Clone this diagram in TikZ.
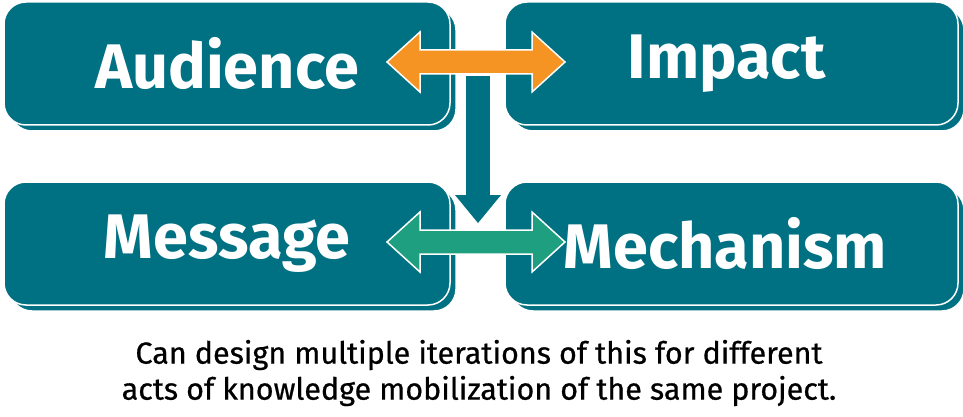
\documentclass[tikz,border=0pt]{standalone}
\usepackage{fontspec}
\setmainfont{Fira Sans}
\definecolor{tealbox}{RGB}{0,113,131}
\definecolor{orangearr}{RGB}{245,148,34}
\definecolor{greenarr}{RGB}{30,160,128}
\tikzset{
  tile/.style={fill=tealbox,draw=white,line width=1.5pt,rounded corners=22pt,
    minimum width=446pt,minimum height=123pt,inner sep=0pt,
    font=\bfseries\fontsize{63}{66}\selectfont,text=white},
  tileshadow/.style={fill=tealbox,draw=white,line width=1.5pt,rounded corners=22pt},
  dblarrow/.style={draw=white,line width=1.5pt}
}
% double arrow centred at (#1,#2)
\newcommand{\dblarr}[3]{%
  \draw[dblarrow,fill=#3] (#1-89,#2) -- (#1-56,#2-30) -- (#1-56,#2-12) -- (#1+56,#2-12)
    -- (#1+56,#2-30) -- (#1+89,#2) -- (#1+56,#2+30) -- (#1+56,#2+12)
    -- (#1-56,#2+12) -- (#1-56,#2+30) -- cycle;}
\begin{document}
\begin{tikzpicture}[x=1pt,y=-1pt]
\useasboundingbox[fill=white] (0,0) rectangle (963,417);
% shadows
\draw[tileshadow] (10,8) rectangle (456,131);
\draw[tileshadow] (511,8) rectangle (964,131);
\draw[tileshadow] (10,188) rectangle (456,311);
\draw[tileshadow] (511,188) rectangle (964,311);
% tiles
\node[tile] (aud) at (227,63.5) {Audience};
\node[tile,minimum width=453pt] (imp) at (731.5,63.5) {\hspace*{-10pt}Impact};
\node[tile] (msg) at (227,243.5) {Message};
\node[tile,minimum width=453pt] (mech) at (731.5,243.5) {\hspace*{-12pt}Mechanism};
% arrows
\dblarr{476}{62}{orangearr}
\fill[tealbox] (466,76) rectangle (490,196);
\fill[tealbox] (455,195) -- (501,195) -- (478,223) -- cycle;
\dblarr{476}{242}{greenarr}
% caption
\node[font=\fontsize{30.5}{36}\selectfont\addfontfeatures{FakeBold=0.6},align=center] (cap) at (479,373)
  {Can design multiple iterations of this for different\\acts of knowledge mobilization of the same project.};
\end{tikzpicture}
\end{document}
